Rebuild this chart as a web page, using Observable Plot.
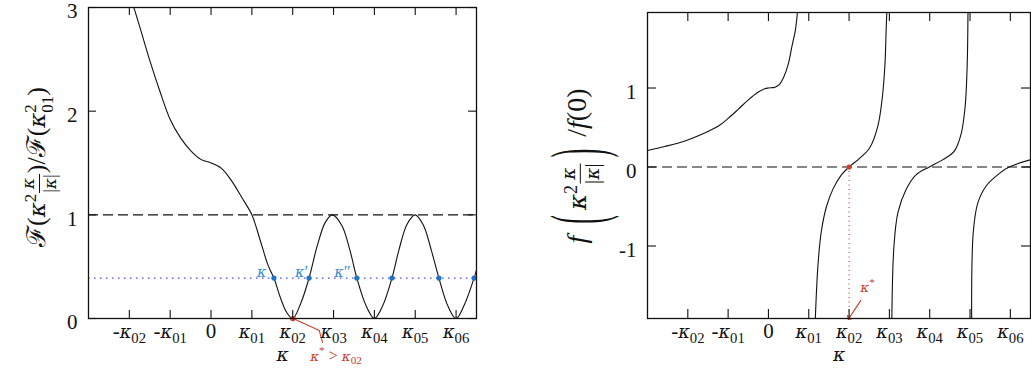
<!DOCTYPE html>
<html><head><meta charset="utf-8">
<script src="https://cdn.jsdelivr.net/npm/d3@7"></script>
<script src="https://cdn.jsdelivr.net/npm/@observablehq/plot@0.6"></script>
<style>
body{margin:0;background:#fff;}
#wrap{position:relative;width:1031px;height:374px;overflow:hidden;font-family:"Liberation Serif",serif;}
#wrap svg{position:absolute;top:0;}
.ylab{position:absolute;white-space:nowrap;transform:translate(-50%,-50%) rotate(-90deg);font-family:"Liberation Serif",serif;font-size:26px;line-height:1;color:#111;}
.ylab i{font-style:italic;font-family:"Liberation Serif",serif;}
.ylab .k{font-family:"DejaVu Serif",serif;font-style:italic;font-size:0.88em;}
.frac{display:inline-flex;flex-direction:column;vertical-align:middle;font-size:19px;line-height:1.08;margin:0 1px;}
.frac>span{display:block;text-align:center;}
.frac .num{border-bottom:1.6px solid #111;padding:0 1px;}
.ylab sup{font-size:17px;vertical-align:0.55em;line-height:0;}
.ss{display:inline-flex;flex-direction:column;vertical-align:middle;font-size:17px;line-height:1;}
.bp{display:inline-block;transform:scaleY(2.9);font-size:26px;vertical-align:middle;margin:0 5px;}
#rl{font-size:28px;}
#rl .frac{font-size:21px;}
#rl sup{font-size:18px;}
</style>
</head><body>
<div id="wrap">
  <div class="ylab" style="left:39px;top:167px;">ℱ(<i class="k">κ</i><sup>2</sup><span class="frac"><span class="num"><i class="k">κ</i></span><span>|<i class="k">κ</i>|</span></span>)/ℱ(<i class="k">κ</i><span class="ss"><span>2</span><span>01</span></span>)</div>
  <div class="ylab" id="rl" style="left:580px;top:166px;"><i>f</i> <span class="bp">(</span><i class="k">κ</i><sup>2</sup><span class="frac"><span class="num"><i class="k">κ</i></span><span>|<i class="k">κ</i>|</span></span><span class="bp">)</span> /<i>f</i>(0)</div>
</div>
<script>
// ---- data ----
const xTickValues = [-2, -1, 0, 1, 2, 3, 4, 5, 6];
const xTickLabels = ["-κ_02", "-κ_01", "0", "κ_01", "κ_02", "κ_03", "κ_04", "κ_05", "κ_06"];
const leftYTicks = [0, 1, 2, 3];
const rightYTicks = [-1, 0, 1];

const leftX = [-2.0, -1.75, -1.5, -1.25, -1.0, -0.75, -0.5, -0.25, 0, 0.25, 0.5, 0.75, 1.0, 1.2, 1.4, 1.54, 1.7, 1.85, 2.0, 2.2, 2.4, 2.6, 2.8, 2.97, 3.2, 3.4, 3.57, 3.8, 4.0, 4.2, 4.43, 4.6, 4.8, 5.0, 5.2, 5.4, 5.58, 5.8, 6.0, 6.2, 6.44, 6.5];
const leftY = [3.14, 2.82, 2.49, 2.19, 1.92, 1.745, 1.62, 1.535, 1.50, 1.45, 1.33, 1.17, 1.0, 0.76, 0.51, 0.39, 0.20, 0.06, 0.0, 0.15, 0.39, 0.70, 0.93, 1.0, 0.90, 0.66, 0.39, 0.12, 0.0, 0.12, 0.39, 0.66, 0.91, 1.0, 0.90, 0.65, 0.39, 0.12, 0.0, 0.13, 0.39, 0.47];

const leftRefLevel = 1;
const blueLevel = 0.39;
const blueDotsX = [1.54, 2.40, 3.57, 4.43, 5.58, 6.44];
const blueLabels = ["κ", "κ′", "κ″"];
const blueLabelX = [1.24, 2.22, 3.22];
const blueLabelY = [0.45, 0.45, 0.45];

const kappaStar = 2;
const leftNote = "κ^* > κ_02";
const leftNotePos = [3.06, -0.357];
const leftPointerX = [2.73, 2.65, 2.01];
const leftPointerY = [-0.228, -0.116, 0.0];

const rightX = [-3.0, -2.57, -2.07, -1.58, -1.25, -1.0, -0.75, -0.5, -0.26, -0.09, 0, 0.16, 0.28, 0.38, 0.49, 0.58, 0.67, 0.73,
  1.16, 1.23, 1.31, 1.44, 1.60, 1.81, 2.0, 2.26, 2.51, 2.71, 2.82, 2.89, 2.92, 2.94,
  3.06, 3.11, 3.21, 3.42, 3.66, 3.99, 4.32, 4.61, 4.78, 4.88, 4.93, 4.95,
  5.04, 5.08, 5.19, 5.40, 5.73, 5.97, 6.49];
const rightY = [0.21, 0.26, 0.33, 0.43, 0.515, 0.615, 0.73, 0.85, 0.947, 0.99, 1.0, 1.01, 1.05, 1.14, 1.30, 1.52, 1.74, 2.02,
  -1.95, -1.23, -0.82, -0.50, -0.28, -0.10, 0, 0.11, 0.24, 0.51, 0.86, 1.30, 1.74, 2.02,
  -1.95, -1.03, -0.58, -0.28, -0.10, 0, 0.09, 0.20, 0.42, 0.77, 1.30, 2.02,
  -1.95, -0.83, -0.46, -0.24, -0.08, 0, 0.09];
const rightBranch = [0,0,0,0,0,0,0,0,0,0,0,0,0,0,0,0,0,0,
  1,1,1,1,1,1,1,1,1,1,1,1,1,1,
  2,2,2,2,2,2,2,2,2,2,2,2,
  3,3,3,3,3,3,3];
const rightRefLevel = 0;
const rightYDomain = [-1.918, 1.956];
const rightNote = "κ^*";
const rightNotePos = [2.46, -1.52];
const rightPointerX = [2.29, 2.0];
const rightPointerY = [-1.69, -1.915];

// ---- styling ----
const INK = "#111";
const RED = "#c8402f";
const BLUE_LINE = "#4646ff";
const BLUE_DOT = "#1f74c4";
const BLUE_TXT = "#3a8ad2";
const FONT = "'Liberation Serif', serif";
const tickFmt = d => xTickLabels[xTickValues.indexOf(d)];

const leftData = leftX.map((x, i) => ({x, y: leftY[i]}));
const rightData = rightX.map((x, i) => ({x, y: rightY[i], b: rightBranch[i]}));
const leftPointer = leftPointerX.map((x, i) => ({x, y: leftPointerY[i]}));
const rightPointer = rightPointerX.map((x, i) => ({x, y: rightPointerY[i]}));

function frameTicks(fw, fh, yTicks, len) {
  return [
    Plot.ruleX(xTickValues, {x: d => d, insetTop: fh - len, stroke: INK, strokeWidth: 1.1}),
    Plot.ruleX(xTickValues, {x: d => d, insetBottom: fh - len, stroke: INK, strokeWidth: 1.1}),
    Plot.ruleY(yTicks, {y: d => d, insetRight: fw - len, stroke: INK, strokeWidth: 1.1}),
    Plot.ruleY(yTicks, {y: d => d, insetLeft: fw - len, stroke: INK, strokeWidth: 1.1})
  ];
}

const left = Plot.plot({
  width: 540, height: 374,
  marginLeft: 88, marginRight: 64, marginTop: 7, marginBottom: 56,
  x: {domain: [-3, 6.5]},
  y: {domain: [0, 3]},
  style: {fontFamily: FONT, fontSize: "21px", color: INK, background: "transparent", overflow: "visible"},
  marks: [
    Plot.ruleY([leftRefLevel], {y: d => d, stroke: INK, strokeDasharray: "10,5", strokeWidth: 1.1}),
    Plot.ruleY([blueLevel], {y: d => d, stroke: BLUE_LINE, strokeDasharray: "1.5,4.5", strokeWidth: 1.3}),
    Plot.line(leftData, {x: "x", y: "y", curve: "catmull-rom", clip: true, stroke: INK, strokeWidth: 1.1}),
    Plot.dot(blueDotsX, {x: d => d, y: () => blueLevel, r: 2.6, fill: BLUE_DOT, stroke: "none"}),
    Plot.text(blueLabels, {x: (d, i) => blueLabelX[i], y: (d, i) => blueLabelY[i], text: d => d, fill: BLUE_TXT, fontSize: 17}),
    Plot.dot([kappaStar], {x: d => d, y: () => 0, r: 2.6, fill: RED, stroke: "none"}),
    Plot.line(leftPointer, {x: "x", y: "y", stroke: RED, strokeWidth: 1.1, markerEnd: "arrow"}),
    Plot.text([leftNote], {x: () => leftNotePos[0], y: () => leftNotePos[1], text: d => d, fill: RED, fontSize: 16}),
    Plot.frame({stroke: INK, strokeWidth: 1.3}),
    ...frameTicks(388, 311, leftYTicks, 8),
    Plot.axisX({ticks: xTickValues, tickFormat: tickFmt, tickSize: 0, tickPadding: 5, fontSize: 21, label: null}),
    Plot.axisY({ticks: leftYTicks, tickFormat: d => String(d), tickSize: 0, tickPadding: 11, fontSize: 21, dy: 4, label: null}),
    Plot.text(["κ"], {frameAnchor: "bottom", dy: 42, text: d => d, fontSize: 22})
  ]
});

const right = Plot.plot({
  width: 491, height: 374,
  marginLeft: 107, marginRight: 1, marginTop: 12, marginBottom: 56,
  x: {domain: [-3, 6.5]},
  y: {domain: rightYDomain},
  style: {fontFamily: FONT, fontSize: "21px", color: INK, background: "transparent", overflow: "visible"},
  marks: [
    Plot.ruleY([rightRefLevel], {y: d => d, stroke: INK, strokeDasharray: "10,5", strokeWidth: 1.1}),
    Plot.ruleX([kappaStar], {x: d => d, y1: 0, y2: rightYDomain[0], stroke: RED, strokeDasharray: "1,3.5", strokeWidth: 1.1}),
    Plot.line(rightData, {x: "x", y: "y", z: "b", curve: "catmull-rom", clip: true, stroke: INK, strokeWidth: 1.1}),
    Plot.dot([kappaStar], {x: d => d, y: () => 0, r: 2.6, fill: RED, stroke: "none"}),
    Plot.line(rightPointer, {x: "x", y: "y", stroke: RED, strokeWidth: 1.3, markerEnd: "arrow"}),
    Plot.text([rightNote], {x: () => rightNotePos[0], y: () => rightNotePos[1], text: d => d, fill: RED, fontSize: 16}),
    Plot.frame({stroke: INK, strokeWidth: 1.3}),
    ...frameTicks(383, 306, rightYTicks, 9),
    Plot.axisX({ticks: xTickValues, tickFormat: tickFmt, tickSize: 0, tickPadding: 5, fontSize: 21, label: null}),
    Plot.axisY({ticks: rightYTicks, tickFormat: d => String(d), tickSize: 0, tickPadding: 11, fontSize: 21, dy: 4, label: null}),
    Plot.text(["κ"], {frameAnchor: "bottom", dy: 42, text: d => d, fontSize: 22})
  ]
});

right.style.left = "540px";
left.style.left = "0px";
const wrap = document.getElementById("wrap");
wrap.insertBefore(right, wrap.firstChild);
wrap.insertBefore(left, wrap.firstChild);

// rich text: italic κ, ^sup and _sub segments
function richify(root) {
  const NS = "http://www.w3.org/2000/svg";
  root.querySelectorAll("text").forEach(t => {
    const s = t.textContent;
    if (!/[κ^_]/.test(s) || t.querySelector("tspan")) return;
    const fs = parseFloat(getComputedStyle(t).fontSize) || 20;
    const parts = s.split(/(κ|\^[^\s_^κ]+|_[^\s_^κ]+)/).filter(p => p !== "");
    t.textContent = "";
    let shift = 0;
    for (const p of parts) {
      const ts = document.createElementNS(NS, "tspan");
      let target = 0, content = p, small = false;
      if (p[0] === "^") { target = -0.4 * fs; content = p.slice(1); small = true; }
      else if (p[0] === "_") { target = 0.2 * fs; content = p.slice(1); small = true; }
      if (target - shift !== 0) ts.setAttribute("dy", target - shift);
      shift = target;
      if (small) ts.setAttribute("font-size", (0.7 * fs).toFixed(1));
      if (p === "κ") {
        ts.setAttribute("font-style", "italic");
        ts.setAttribute("font-family", "'DejaVu Serif', serif");
        ts.setAttribute("font-size", (0.85 * fs).toFixed(1));
      }
      ts.textContent = content;
      t.appendChild(ts);
    }
  });
}
richify(left);
richify(right);
</script>
</body></html>
